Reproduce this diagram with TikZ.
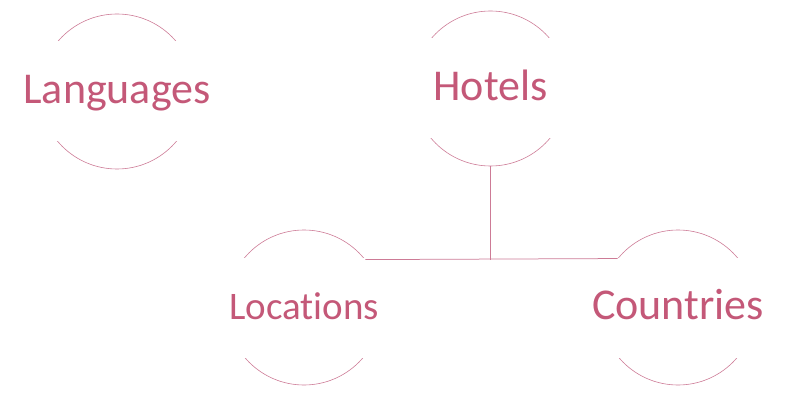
\documentclass[tikz,border=0pt]{standalone}
\usepackage{fontspec}
\setmainfont{Carlito}[Ligatures=NoCommon]
\usepackage{tikz}
\usetikzlibrary{shapes, arrows}
\definecolor{textcol}{HTML}{C45878}
\definecolor{linecol}{HTML}{CD7B96}
\tikzstyle{bubble} = [circle, minimum size=155pt, inner sep=0pt, draw=linecol, line width=0.6pt]
\tikzstyle{caption} = [rectangle, fill=white, inner sep=0pt, minimum width=170pt, minimum height=100pt, text height=24pt, text depth=0pt, text=textcol, font=\fontsize{44}{48}\selectfont]
\tikzstyle{link} = [draw=linecol, line width=0.75pt]
\begin{document}
\begin{tikzpicture}[x=1pt, y=-1pt]
\useasboundingbox (0,0) rectangle (803,417);

%Top row
\node (languages) [bubble] at (117,91.5) {};
\node (languagestext) [caption] at (languages.center) {Languages};
\node (hotels) [bubble] at (490.5,88.5) {};
\node (hotelstext) [caption] at (hotels.center) {Hotels};

%Bottom row
\node (locations) [bubble] at (304,307.5) {};
\node (locationstext) [caption, font=\fontsize{39}{44}\selectfont] at (locations.center) {Locations};
\node (countries) [bubble] at (678,307.5) {};
\node (countriestext) [caption] at (countries.center) {Countries};

%Hotels to children
\coordinate (junction) at (hotels.south |- locations.38.7);
\draw [link] (hotels.south) -- (junction);
\draw [link] (locations.38.7) -- (countries.141.3);
\end{tikzpicture}
\end{document}
